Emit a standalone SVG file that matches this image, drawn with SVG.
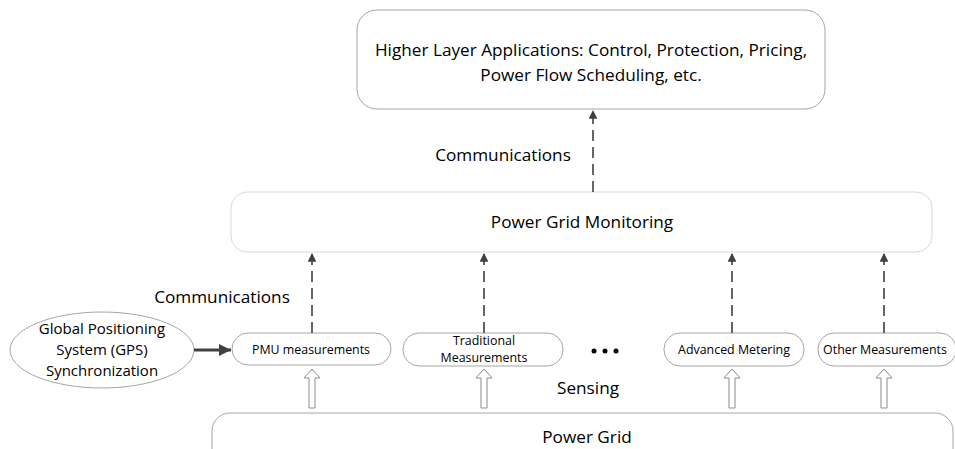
<svg xmlns="http://www.w3.org/2000/svg" width="955" height="449" viewBox="0 0 955 449">
<style>
text{font-family:"Open Sans","Liberation Sans",sans-serif;fill:#000;text-anchor:middle}
.box{fill:#fff;stroke:#a6a6a6;stroke-width:1}
.lbox{fill:#fff;stroke:#d9d9d9;stroke-width:1}
.dash{stroke:#404040;stroke-width:1.6;stroke-dasharray:11,6;fill:none}
.hollow{fill:#fff;stroke:#8c8c8c;stroke-width:1}
.big{font-size:17.2px}
.sm{font-size:12.4px}
</style>
<defs>
<marker id="ah" viewBox="0 0 10 10" refX="10" refY="5" markerWidth="7" markerHeight="5.5" markerUnits="strokeWidth" orient="auto"><path d="M0,0L10,5L0,10Z" fill="#404040"/></marker>
<marker id="ah2" viewBox="0 0 10 10" refX="10" refY="5" markerWidth="4.5" markerHeight="4" markerUnits="strokeWidth" orient="auto"><path d="M0,0L10,5L0,10Z" fill="#404040"/></marker>
</defs>
<g id="top"><rect class="box" x="357" y="10" width="468" height="99" rx="20"/>
<text class="big" x="591" y="56">Higher Layer Applications: Control, Protection, Pricing,</text>
<text class="big" x="591" y="81">Power Flow Scheduling, etc.</text></g>
<g id="monitor"><rect class="lbox" x="231" y="192" width="701" height="60" rx="16"/>
<text class="big" x="582" y="228">Power Grid Monitoring</text></g>
<g id="gps"><ellipse class="box" cx="102" cy="350" rx="92" ry="38"/>
<text x="102" y="334" font-size="15">Global Positioning</text>
<text x="102" y="355" font-size="15">System (GPS)</text>
<text x="102" y="376" font-size="15">Synchronization</text></g>
<g id="pmu"><rect class="box" x="232" y="333" width="159" height="32" rx="16"/>
<text class="sm" x="311" y="354">PMU measurements</text></g>
<g id="trad"><rect class="box" x="403" y="333" width="160" height="33" rx="16"/>
<text class="sm" x="484" y="345">Traditional</text>
<text class="sm" x="484" y="362">Measurements</text></g>
<g id="adv"><rect class="box" x="664" y="333" width="140" height="33" rx="16"/>
<text class="sm" x="734" y="354">Advanced Metering</text></g>
<g id="other"><rect class="box" x="818" y="333" width="138" height="33" rx="16"/>
<text class="sm" x="885" y="354">Other Measurements</text></g>
<g id="grid"><rect class="box" x="212" y="413" width="741" height="60" rx="18"/>
<text class="big" x="587" y="443">Power Grid</text></g>
<g id="labels">
<text class="big" x="503" y="161">Communications</text>
<text class="big" x="222" y="303">Communications</text>
<text class="big" x="588" y="394">Sensing</text>
<circle cx="594" cy="351" r="2.5" fill="#000"/><circle cx="605" cy="351" r="2.5" fill="#000"/><circle cx="616" cy="351" r="2.5" fill="#000"/>
</g>
<g id="connectors">
<line class="dash" x1="593" y1="192" x2="593" y2="110" marker-end="url(#ah)"/>
<line class="dash" x1="312" y1="333" x2="312" y2="253" marker-end="url(#ah)"/>
<line class="dash" x1="484" y1="333" x2="484" y2="253" marker-end="url(#ah)"/>
<line class="dash" x1="732" y1="333" x2="732" y2="253" marker-end="url(#ah)"/>
<line class="dash" x1="884" y1="333" x2="884" y2="253" marker-end="url(#ah)"/>
<line x1="194" y1="350" x2="231" y2="350" stroke="#404040" stroke-width="3" marker-end="url(#ah2)"/>
<path class="hollow" d="M312,369L320,378H315V408H309V378H304Z"/>
<path class="hollow" d="M484,369L492,378H487V408H481V378H476Z"/>
<path class="hollow" d="M732,369L740,378H735V408H729V378H724Z"/>
<path class="hollow" d="M884,369L892,378H887V408H881V378H876Z"/>
</g>
</svg>
